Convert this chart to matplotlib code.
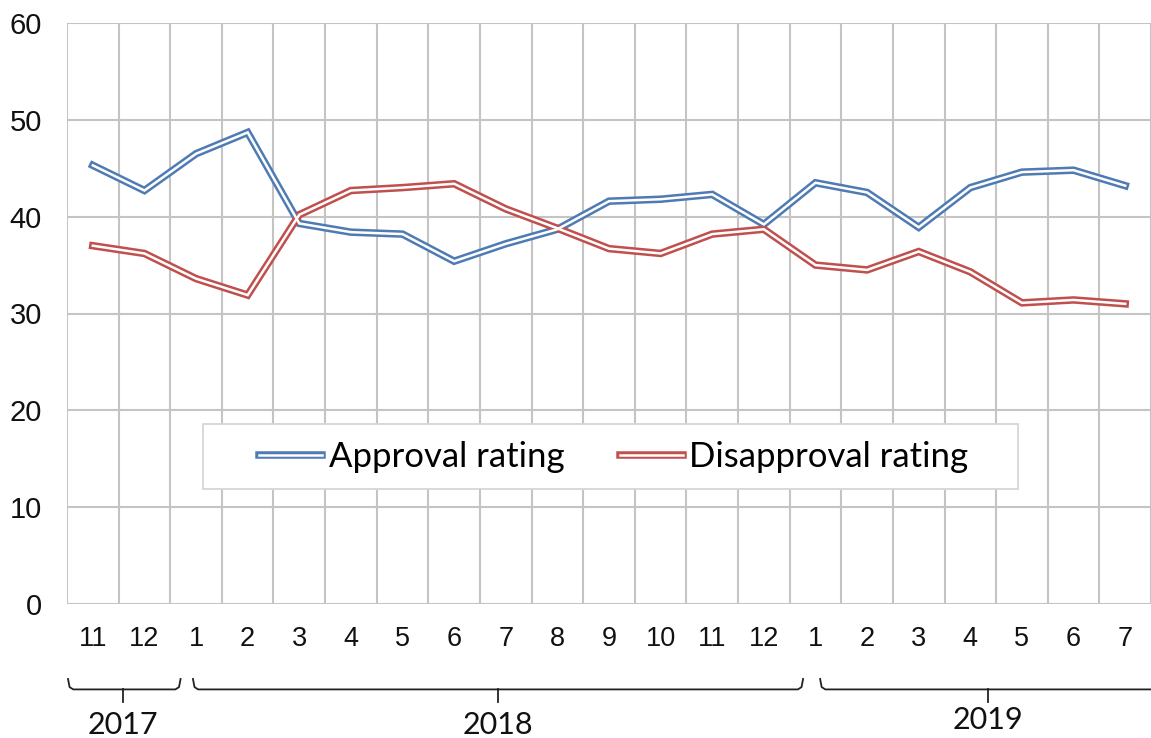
import matplotlib.pyplot as plt
import matplotlib.transforms as mtransforms
from matplotlib.lines import Line2D
from matplotlib.patches import Rectangle

plt.rcParams['font.family'] = 'Liberation Sans'

# months from 2017-11 to 2019-07
months = ['11', '12', '1', '2', '3', '4', '5', '6', '7', '8', '9', '10', '11', '12',
          '1', '2', '3', '4', '5', '6', '7']
approval = [45.3, 42.7, 46.5, 48.7, 39.3, 38.4, 38.2, 35.4, 37.2, 38.7, 41.6,
            41.8, 42.3, 39.2, 43.5, 42.5, 38.9, 43.0, 44.6, 44.8, 43.2]
disapproval = [37.0, 36.2, 33.6, 31.9, 40.2, 42.7, 43.0, 43.4, 40.8, 38.8, 36.7,
               36.2, 38.2, 38.7, 35.0, 34.5, 36.4, 34.3, 31.1, 31.4, 31.0]
years = ['2017', '2018', '2019']

blue = '#4f7bb4'
red = '#c0504d'
grid_c = '#c4c4c4'
outer_lw, inner_lw = 5.4, 1.8

W, H = 1151, 738
fig = plt.figure(figsize=(W / 100, H / 100), dpi=100)
ax = fig.add_axes([67 / W, (H - 604) / H, (W - 67) / W, (604 - 23) / H])

x = list(range(len(months)))
for vals, c in [(approval, blue), (disapproval, red)]:
    ax.plot(x, vals, color=c, lw=outer_lw, solid_joinstyle='miter', zorder=3)
    ax.plot(x, vals, color='white', lw=inner_lw, solid_joinstyle='miter', zorder=4)

ax.set_xlim(-0.5, len(months) - 0.5)
ax.set_ylim(0, 60)
ax.set_yticks(range(0, 61, 10))
ax.set_xticks(x)
ax.set_xticklabels(months)
# vertical grid between categories
for b in range(len(months) + 1):
    ax.axvline(b - 0.5, color=grid_c, lw=1.5, zorder=1)
for yv in range(0, 61, 10):
    ax.axhline(yv, color=grid_c, lw=1.5, zorder=1)
for s in ax.spines.values():
    s.set_visible(False)
ax.tick_params(length=0, labelcolor='#111111')
ax.tick_params(axis='y', pad=18, labelsize=21)
ax.tick_params(axis='x', pad=16, labelsize=19.5)

# legend box
fig.patches.append(Rectangle((203 / W, 1 - 489 / H), (1018 - 203) / W, 65 / H,
                             transform=fig.transFigure, facecolor='white',
                             edgecolor='#d6d6d6', lw=1.3, zorder=5))
handles = [(Line2D([], [], color=blue, lw=outer_lw), Line2D([], [], color='white', lw=inner_lw)),
           (Line2D([], [], color=red, lw=outer_lw), Line2D([], [], color='white', lw=inner_lw))]
leg = fig.legend(handles, ['Approval rating', 'Disapproval rating'], loc='center',
                 bbox_to_anchor=(614 / W, 1 - 457 / H), ncol=2, frameon=False,
                 prop={'family': 'Lato', 'size': 25}, handlelength=1.8,
                 handletextpad=0.2, columnspacing=1.6)
leg.set_zorder(6)

# year brackets under the month labels
trans = mtransforms.blended_transform_factory(ax.transData, ax.transAxes)
spans = [(-0.48, 1.70, 0.58), (1.94, 13.76, 7.85), (14.09, 21.5, 17.34)]
y_line, y_hook, y_stem = -0.147, -0.129, -0.168
label_y = [-0.209, -0.209, -0.199]
for (a, b, m), yr, ly in zip(spans, years, label_y):
    ax.plot([a, a + 0.03, a + 0.1, b - 0.1, b - 0.03, b],
            [y_hook, y_line + 0.004, y_line, y_line, y_line + 0.004, y_hook],
            transform=trans, color='#222222', lw=1.3, clip_on=False)
    ax.plot([m, m], [y_line, y_stem], transform=trans, color='#222222', lw=1.3,
            clip_on=False)
    ax.text(m, ly, yr, transform=trans, ha='center', va='center',
            family='Lato', fontsize=22, color='#111111')

fig.savefig('out.png', dpi=100)
